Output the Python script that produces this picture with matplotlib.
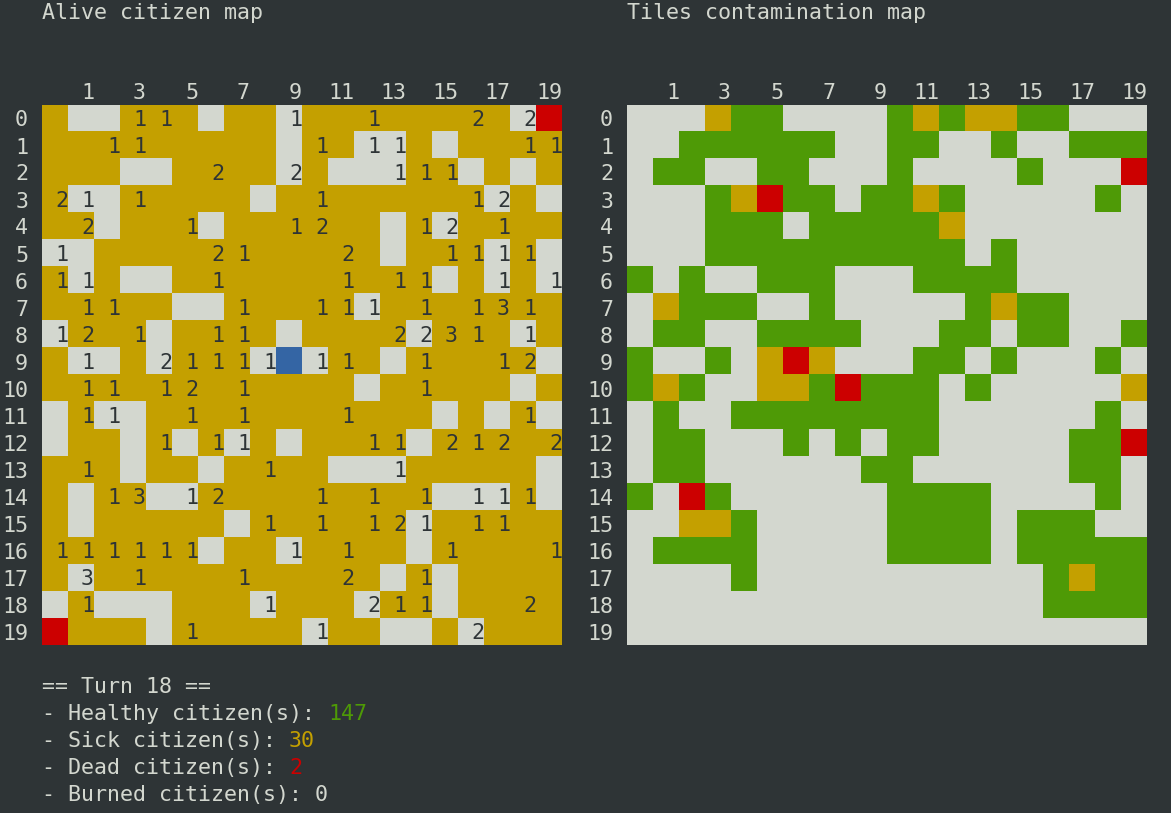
import numpy as np
import matplotlib
matplotlib.use("Agg")
import matplotlib.pyplot as plt
from matplotlib.colors import ListedColormap

# tango terminal palette
BG = "#2e3436"
FG = "#d3d7cf"
GREY = "#d3d7cf"
YELLOW = "#c4a000"
RED = "#cc0000"
BLUE = "#3465a4"
GREEN = "#4e9a06"

turn = 18
stat_names = ["Healthy", "Sick", "Dead", "Burned"]
stat_values = [147, 30, 2, 0]
stat_colors = [GREEN, YELLOW, RED, FG]

# alive citizen map: G empty, Y sick, R dead, B blue marker
alive_tiles = [
    "YGGYYYGYYGYYYYYYYYGR",
    "YYYYYYYYYGYYGGYGYYYY",
    "YYYGGYYYYGYGGGYYGYGY",
    "YGGYYYYYGYYYYYYYYGYG",
    "YYGYYYGYYYYYYGYGYYYY",
    "GGYYYYYYYYYYYGYYYGYG",
    "YGYGGYYYYYYYYYYGYGYG",
    "YYYYYGGYYYYYGYYYYYYY",
    "GYYYGYYYYGYYYYGYYYGY",
    "YGGYGYYYGBGYYGYYYYYG",
    "YYYYYYYYYYYYGYYYYYGY",
    "GYGGYYYYYYYYYYYGYGYG",
    "GYYGYGYGYGYYYYGYYYYY",
    "YYYGYYGYYYYGGGYYYYYG",
    "YGYYGGYYYYYYYYYGGGYG",
    "YGYYYYYGYYYYYYGYYYYY",
    "YYYYYYGYYGYYYYGYYYYY",
    "YGYYYYYYYYYYYGYGYYYY",
    "GYGGGYYYGYYYGYYGYYYY",
    "RYYYGYYYYYGYYGGYGYYY",
]

# number of alive citizens per tile ("." = none)
alive_counts = [
    "...11....1..1...2.2.",
    "..11......1.11....11",
    "......2..2...111....",
    "21.1......1.....12..",
    ".2...1...12...12.1..",
    "1.....21...2...1111.",
    "11....1....1.11..1.1",
    ".11....1..111.1.131.",
    "12.1..11.....2231.1.",
    ".1..21111.11..1..12.",
    ".11.12.1......1.....",
    ".11..1.1...1......1.",
    "....1.11....11.212.2",
    ".1......1....1......",
    "..13.12...1.1.1.111.",
    "........1.1.121.11..",
    "111111...1.1...1...1",
    ".3.1...1...2..1.....",
    ".1......1...211...2.",
    ".....1....1.....2...",
]

# tiles contamination map: G clean, N green, Y yellow, R red
contamination_tiles = [
    "GGGYNNGGGGNYNYYNNGGG",
    "GGNNNNNNGGNNGGNGGNNN",
    "GNNGGNNGGGNGGGGNGGGR",
    "GGGNYRNNGNNYNGGGGGNG",
    "GGGNNNGNNNNNYGGGGGGG",
    "GGGNNNNNNNNNNGNGGGGG",
    "NGNGGNNNGGGNNNNGGGGG",
    "GYNNNGGNGGGGGNYNNGGG",
    "GNNGGNNNNGGGNNGNNGGN",
    "NGGNGYRYGGGNNGNGGGNG",
    "NYNGGYYNRNNNGNGGGGGY",
    "GNGGNNNNNNNNGGGGGGNG",
    "GNNGGGNGNGNNGGGGGNNR",
    "GNNGGGGGGNNGGGGGGNNG",
    "NGRNGGGGGGNNNNGGGGNG",
    "GGYYNGGGGGNNNNGNNNGG",
    "GNNNNGGGGGNNNNGNNNNN",
    "GGGGNGGGGGGGGGGGNYNN",
    "GGGGGGGGGGGGGGGGNNNN",
    "GGGGGGGGGGGGGGGGGGGG",
]

alive_palette = {"G": GREY, "Y": YELLOW, "R": RED, "B": BLUE}
contamination_palette = {"G": GREY, "N": GREEN, "Y": YELLOW, "R": RED}

W, H = 1171, 813
CHAR = 13.0                      # one terminal column in px
FS = CHAR / 0.602 * 72 / 100     # DejaVu Sans Mono size giving 13px columns
MONO = "DejaVu Sans Mono"

fig = plt.figure(figsize=(W / 100, H / 100), dpi=100, facecolor=BG)


def px_axes(x, y, w, h):
    return fig.add_axes([x / W, 1 - (y + h) / H, w / W, h / H])


def fig_text(x, y, s, color=FG):
    fig.text(x / W, 1 - y / H, s, color=color, fontsize=FS, family=MONO,
             ha="left", va="baseline")


def draw_grid(ax, tiles, palette, counts=None):
    keys = list(palette)
    grid = np.array([[keys.index(ch) for ch in row] for row in tiles])
    cmap = ListedColormap(list(palette.values()))
    ax.imshow(grid, cmap=cmap, vmin=0, vmax=len(keys) - 1,
              aspect="auto", interpolation="nearest")
    n = grid.shape[0]
    cols = list(range(1, n, 2))
    # labels are right aligned in the two character wide cell
    ax.set_xticks([c + 0.5 - len(str(c)) * 0.25 for c in cols])
    ax.set_xticklabels([str(c) for c in cols], ha="center", va="baseline")
    ax.set_yticks(range(n))
    ax.set_yticklabels([str(r) for r in range(n)])
    ax.xaxis.tick_top()
    ax.tick_params(length=0, colors=FG, labelsize=FS)
    ax.tick_params(axis="x", pad=4)
    ax.tick_params(axis="y", pad=10)
    for lab in ax.get_xticklabels() + ax.get_yticklabels():
        lab.set_family(MONO)
    for sp in ax.spines.values():
        sp.set_visible(False)
    ax.set_facecolor(BG)
    if counts is not None:
        for r, row in enumerate(counts):
            for c, ch in enumerate(row):
                if ch != ".":
                    ax.text(c + 0.25, r + 0.29, ch, color=BG, fontsize=FS,
                            family=MONO, ha="center", va="baseline")


ax1 = px_axes(42, 105, 520, 540)
draw_grid(ax1, alive_tiles, alive_palette, alive_counts)
ax2 = px_axes(627, 105, 520, 540)
draw_grid(ax2, contamination_tiles, contamination_palette)

fig_text(42, 19, "Alive citizen map")
fig_text(627, 19, "Tiles contamination map")

fig_text(42, 693, "== Turn %d ==" % turn)
for i, (name, val, col) in enumerate(zip(stat_names, stat_values, stat_colors)):
    prefix = "- %s citizen(s): " % name
    y = 720 + i * 27
    fig_text(42, y, prefix)
    fig_text(42 + len(prefix) * CHAR, y, str(val), color=col)

fig.savefig("out.png", dpi=100, facecolor=BG)
